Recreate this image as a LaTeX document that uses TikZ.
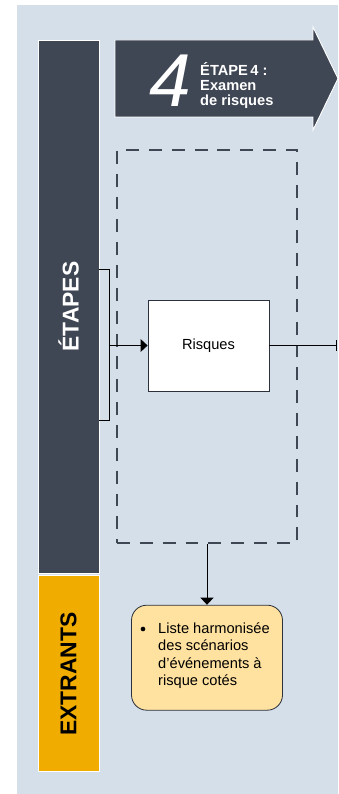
\documentclass[tikz,border=0pt]{standalone}
\usepackage{fontspec}
\setmainfont{Liberation Sans}
\usetikzlibrary{arrows.meta, positioning}
\definecolor{stepcol}{HTML}{3F4654}
\definecolor{panelcol}{HTML}{D5DFEA}
\definecolor{outcol}{HTML}{F0AD00}
\definecolor{notecol}{HTML}{FFE2A0}

\begin{document}
\begin{tikzpicture}[x=0.03cm, y=-0.03cm,
  band/.style={draw=white, line width=0.8pt, inner sep=0pt, minimum width=1.83cm},
  bandlabel/.style={rotate=90, font=\fontsize{19.5}{20}\selectfont\bfseries},
  box/.style={draw=stepcol!70!black, line width=0.7pt, inner sep=0pt,
    font=\fontsize{12.5}{15}\selectfont},
  conn/.style={-{Triangle[length=6pt, width=11pt]}, line width=0.8pt},
]
\useasboundingbox (0,0) rectangle (338,794);

% Panel behind everything
\fill[panelcol] (17,5) rectangle (338,794);

% Left bands: steps and outputs
\node[band, fill=stepcol, minimum height=15.99cm] (etapes) at (68.5,306.5) {};
\node[bandlabel, text=white] at (etapes) {ÉTAPES};
\node[band, fill=outcol, minimum height=5.88cm, below=0.06cm of etapes] (extrants) {};
\node[bandlabel, text=black] at (extrants) {EXTRANTS};

% Step header arrow
\filldraw[fill=stepcol, draw=white, line width=0.8pt]
  (115,40) -- (313,40) -- (313,27) -- (338,78.5) -- (313,130) -- (313,117) -- (115,117) -- cycle;
\node[text=white, font=\fontsize{64}{64}\selectfont\itshape] (num) at (170,80.5) {4};
\node[text=white, anchor=west, align=left, inner sep=0pt,
      font=\fontsize{12.5}{12.8}\selectfont\bfseries] (title) at (200,86)
  {ÉTAPE\,4 :\\Examen\\de risques};

% Dashed frame around the step
\node[draw=stepcol, dash pattern=on 11pt off 8.5pt, line width=1.3pt,
      minimum width=5.4cm, minimum height=11.79cm] (frame) at (207,346.5) {};

% Risk box
\node[box, fill=white, minimum width=3.63cm, minimum height=2.73cm] (risk) at (208.5,345.5) {Risques};

% Bracket on the step band and its input arrow
\draw[line width=0.7pt] (99,269) -- (109,269) -- (109,420) -- (99,420);
\coordinate (brk) at (109,345.5);
\draw[conn] (brk) -- (risk.west);

% Output line to the right edge
\coordinate (exit) at (337,345.5);
\draw[-{Bar[width=9pt]}, line width=0.8pt] (risk.east) -- (exit);

% Output note
\node[box, fill=notecol, rounded corners=13pt, minimum width=4.53cm, minimum height=3.15cm,
      below=1.83cm of frame] (note) {};
\draw[conn] (frame.south) -- (note.north);
\fill (143,629) circle (2pt);
\node[anchor=west, align=left, inner sep=0pt, font=\fontsize{12.5}{15}\selectfont] (notetext) at (158,655.5)
  {Liste harmonisée\\des scénarios\\d’événements à\\risque cotés};

\end{tikzpicture}
\end{document}
